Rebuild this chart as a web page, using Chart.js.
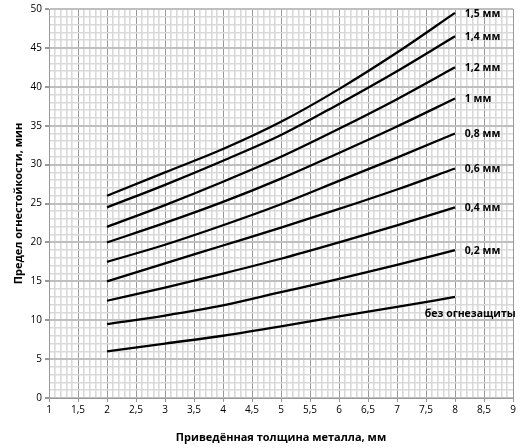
<!DOCTYPE html>
<html>
<head>
<meta charset="utf-8">
<script src="https://cdn.jsdelivr.net/npm/chart.js@4.4.1/dist/chart.umd.min.js"></script>
<style>
  html, body { margin: 0; padding: 0; background: #fff; }
  #wrap { width: 524px; height: 448px; }
</style>
</head>
<body>
<div id="wrap"><canvas id="myChart"></canvas></div>
<script>
// толщина металла, мм
var xValues = [2, 3, 4, 5, 6, 7, 8];

// предел огнестойкости, мин (по кривым)
var t15 = [26, 29, 32, 35.5, 39.7, 44.4, 49.5];
var t14 = [24.5, 27.4, 30.5, 33.8, 37.8, 42, 46.5];
var t12 = [22, 24.8, 27.8, 31, 34.6, 38.4, 42.5];
var t10 = [20, 22.5, 25.2, 28.2, 31.5, 34.9, 38.5];
var t08 = [17.5, 19.7, 22.2, 24.9, 27.9, 30.9, 34];
var t06 = [15, 17.3, 19.6, 21.9, 24.3, 26.8, 29.5];
var t04 = [12.5, 14.2, 16, 17.9, 20, 22.2, 24.5];
var t02 = [9.5, 10.6, 11.9, 13.6, 15.3, 17.1, 19];
var t00 = [6, 7, 8, 9.2, 10.5, 11.7, 13];

var seriesNames = ["1,5 мм", "1,4 мм", "1,2 мм", "1 мм", "0,8 мм", "0,6 мм", "0,4 мм", "0,2 мм", "без огнезащиты"];
var seriesData = [t15, t14, t12, t10, t08, t06, t04, t02, t00];

var font = "'Open Sans', 'DejaVu Sans', sans-serif";

function near(v, step) {
    return Math.abs(v / step - Math.round(v / step)) < 1e-6;
}

var datasets = seriesData.map(function (arr, i) {
    return {
        label: seriesNames[i],
        data: arr.map(function (v, j) { return {x: xValues[j], y: v}; }),
        borderColor: "#000",
        borderWidth: 2.3,
        pointRadius: 0,
        fill: false,
        cubicInterpolationMode: "monotone"
    };
});

// подписи кривых справа от концов
var endLabels = {
    id: "endLabels",
    afterDatasetsDraw: function (chart) {
        var ctx = chart.ctx;
        var xs = chart.scales.x, ys = chart.scales.y;
        ctx.save();
        ctx.fillStyle = "#000";
        ctx.font = "bold 10.5px " + font;
        ctx.textBaseline = "middle";
        ctx.textAlign = "left";
        chart.data.datasets.forEach(function (ds, i) {
            var last = ds.data[ds.data.length - 1];
            if (i == chart.data.datasets.length - 1) {
                ctx.fillText(ds.label, xs.getPixelForValue(last.x - 0.52), ys.getPixelForValue(last.y - 2.2));
            } else {
                ctx.fillText(ds.label, xs.getPixelForValue(last.x + 0.17), ys.getPixelForValue(last.y - 0.1));
            }
        });
        ctx.restore();
    }
};

new Chart("myChart", {
    type: "line",
    data: {datasets: datasets},
    plugins: [endLabels],
    options: {
        responsive: true,
        maintainAspectRatio: false,
        animation: false,
        layout: {padding: {top: 9, right: 11, left: 8, bottom: 0}},
        plugins: {
            legend: {display: false},
            tooltip: {enabled: false}
        },
        scales: {
            x: {
                type: "linear",
                min: 1,
                max: 9,
                afterFit: function (s) { s.height = 50; },
                afterBuildTicks: function (s) {
                    var t = [];
                    for (var k = 10; k <= 90; k++) t.push({value: k / 10});
                    s.ticks = t;
                },
                ticks: {
                    autoSkip: false,
                    maxRotation: 0,
                    color: "#000",
                    font: {family: font, size: 10},
                    padding: 2,
                    callback: function (v) {
                        return near(v, 0.5) ? String(Math.round(v * 10) / 10).replace(".", ",") : "";
                    }
                },
                grid: {
                    color: function (c) { return near(c.tick.value, 0.5) ? "#999" : "#d9d9d9"; },
                    lineWidth: function (c) { return near(c.tick.value, 0.5) ? 1 : 1.6; },
                    tickLength: 4,
                    tickColor: function (c) { return near(c.tick.value, 0.5) ? "#999" : "rgba(0,0,0,0)"; }
                },
                border: {color: "#999", width: 1},
                title: {
                    display: true,
                    text: "Приведённая толщина металла, мм",
                    color: "#000",
                    font: {family: font, size: 11, weight: "bold"},
                    padding: {top: 5}
                }
            },
            y: {
                type: "linear",
                min: 0,
                max: 50,
                afterFit: function (s) { s.width = 41; },
                afterBuildTicks: function (s) {
                    var t = [];
                    for (var k = 0; k <= 50; k++) t.push({value: k});
                    s.ticks = t;
                },
                ticks: {
                    autoSkip: false,
                    color: "#000",
                    font: {family: font, size: 10},
                    padding: 3,
                    callback: function (v) { return v % 5 == 0 ? String(v) : ""; }
                },
                grid: {
                    color: function (c) { return c.tick.value % 5 == 0 ? "#bfbfbf" : "#d9d9d9"; },
                    lineWidth: function (c) { return c.tick.value % 5 == 0 ? 2 : 1.6; },
                    tickLength: 4,
                    tickColor: function (c) { return c.tick.value % 5 == 0 ? "#999" : "rgba(0,0,0,0)"; }
                },
                border: {color: "#999", width: 1},
                title: {
                    display: true,
                    text: "Предел огнестойкости, мин",
                    color: "#000",
                    font: {family: font, size: 11, weight: "bold"},
                    padding: {bottom: 4}
                }
            }
        }
    }
});
</script>
</body>
</html>
